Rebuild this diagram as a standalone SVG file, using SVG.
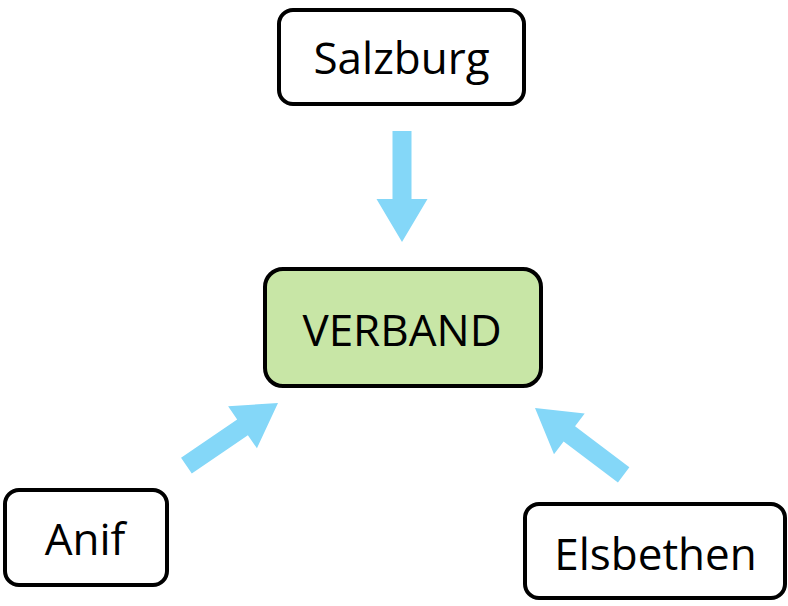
<svg xmlns="http://www.w3.org/2000/svg" xmlns:xlink="http://www.w3.org/1999/xlink" width="788" height="606" viewBox="0 0 788 606">
<style>
.box{fill:#ffffff;stroke:#000000;stroke-width:4}
.main{fill:#c8e6a6;stroke:#000000;stroke-width:4}
.lbl{font-family:"Open Sans","DejaVu Sans",sans-serif;font-size:44px;fill:#000000;text-anchor:middle}
.arr{fill:#84d7f8}
</style>
<defs>
<polygon id="arrow" class="arr" points="-9.5,-111 9.5,-111 9.5,-43 25.5,-43 0,0 -25.5,-43 -9.5,-43"/>
</defs>
<rect width="788" height="606" fill="#ffffff"/>
<g id="connectors">
<use xlink:href="#arrow" transform="translate(402,242)"/>
<use xlink:href="#arrow" transform="translate(278,403) rotate(-124.4)"/>
<use xlink:href="#arrow" transform="translate(535,408) rotate(127)"/>
</g>
<g id="salzburg">
<rect class="box" x="279" y="10" width="245" height="94" rx="14"/>
<text class="lbl" x="401.5" y="74">Salzburg</text>
</g>
<g id="verband">
<rect class="main" x="265" y="269" width="276" height="117" rx="18"/>
<text class="lbl" x="402" y="346">VERBAND</text>
</g>
<g id="anif">
<rect class="box" x="5" y="490" width="162" height="95" rx="14"/>
<text class="lbl" x="85" y="555">Anif</text>
</g>
<g id="elsbethen">
<rect class="box" x="525" y="504" width="260" height="94" rx="14"/>
<text class="lbl" x="655.5" y="570">Elsbethen</text>
</g>
</svg>
